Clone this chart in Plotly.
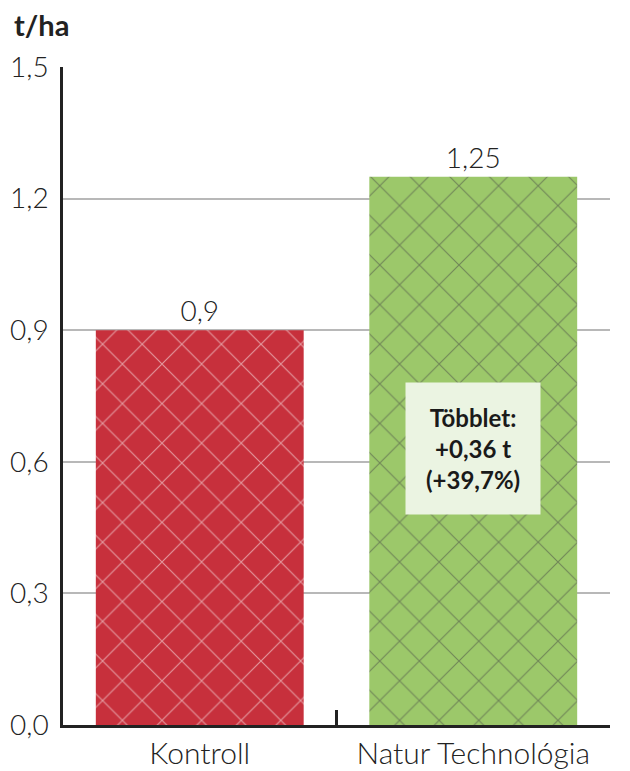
import plotly.graph_objects as go

categories = ["Kontroll", "Natur Technológia"]
values = [0.9, 1.25]
value_labels = ["0,9", "1,25"]
bar_colors = ["#C7303C", "#9CC86A"]
pattern_colors = ["#DA5A63", "#86B252"]
tick_vals = [0.0, 0.3, 0.6, 0.9, 1.2, 1.5]
tick_text = ["0,0", "0,3", "0,6", "0,9", "1,2", "1,5"]
unit_label = "t/ha"
note_text = "Többlet:<br>+0,36 t<br>(+39,7%)"
note_y = 0.63

FONT = "Lato, 'DejaVu Sans', sans-serif"

fig = go.Figure()
fig.add_trace(go.Bar(
    x=categories,
    y=values,
    width=0.76,
    marker=dict(
        color=bar_colors,
        line=dict(width=0),
        pattern=dict(shape="x", fgcolor=pattern_colors, size=28, solidity=0.08),
    ),
    text=value_labels,
    textposition="outside",
    textfont=dict(size=28, color="#222222", family=FONT, weight=300),
    cliponaxis=False,
    hoverinfo="skip",
))

fig.add_annotation(
    x=categories[1], y=note_y, xref="x", yref="y",
    text="<b>" + note_text + "</b>",
    showarrow=False,
    align="center",
    font=dict(size=24, color="#1a1a1a", family=FONT),
    bgcolor="#EBF4E2",
    borderpad=20,
)

fig.add_annotation(
    x=0, y=1, xref="paper", yref="paper",
    xanchor="left", yanchor="bottom", xshift=-51, yshift=23,
    text="<b>" + unit_label + "</b>",
    showarrow=False,
    font=dict(size=29, color="#222222", family=FONT),
)

fig.update_layout(
    width=630, height=771,
    margin=dict(l=55, r=28, t=59, b=54, autoexpand=False),
    paper_bgcolor="white", plot_bgcolor="white",
    separators=", ",
    showlegend=False,
    bargap=0.24,
    font=dict(family=FONT, color="#222222"),
)
fig.update_xaxes(
    type="category",
    range=[-0.5, 1.5],
    showline=True, linecolor="#222222", linewidth=2.5,
    ticks="inside", tickson="boundaries", ticklen=15, tickwidth=2.5, tickcolor="#222222",
    showgrid=False,
    automargin=False,
    tickfont=dict(size=30, color="#222222", family=FONT, weight=300),
)
fig.update_yaxes(
    range=[0, 1.5],
    tickvals=tick_vals, ticktext=tick_text,
    showline=True, linecolor="#222222", linewidth=2.5,
    showgrid=True, gridcolor="#B8B8B8", gridwidth=2,
    zeroline=False,
    automargin=False,
    ticks="", ticklabelstandoff=6,
    tickfont=dict(size=28, color="#222222", family=FONT, weight=300),
)

fig.write_html("out.html")
